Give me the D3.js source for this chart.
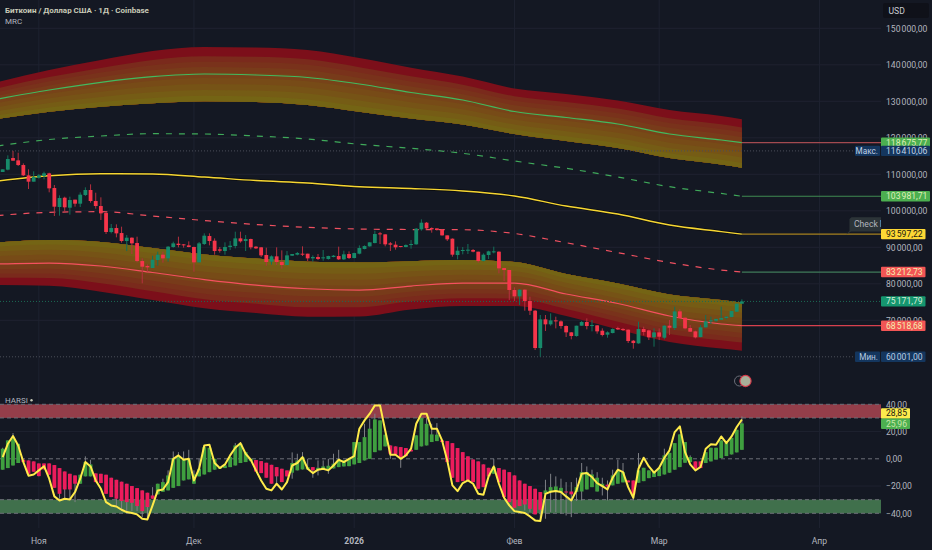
<!DOCTYPE html>
<html>
<head>
<meta charset="utf-8">
<script src="https://cdn.jsdelivr.net/npm/d3@7"></script>
<style>
    html, body { margin: 0; padding: 0; background: #141823; overflow: hidden; }
    svg { display: block; }
    text { font-family: Roboto, sans-serif; }
</style>
</head>
<body>
<svg id="chart" width="932" height="550"></svg>
<script>
// daily candles, BTC/USD, 25 Oct 2025 - 17 Mar 2026
const candleOpen = [
    110630,111270,114460,113820,112540,109710,107980,109070,109530,110260,
    106240,101040,103590,100850,103050,101950,104320,105700,102680,101310,
    99390,94190,95280,93910,91720,92630,91170,86240,84870,84320,
    86520,87980,86970,90080,90990,90810,90530,90080,85880,90900,
    93090,91810,89440,88980,90080,90350,92450,91720,92270,90170,
    89990,87890,86060,87520,85970,85150,87700,87980,88250,88250,
    86970,87340,86970,86790,87340,87610,86700,88160,87060,88250,
    89530,90260,91170,93820,93550,91080,90720,90350,90080,90620,
    90810,94920,96740,95280,95190,94830,93270,92360,87890,88980,
    89070,89260,88800,86240,87890,88620,88800,84320,83780,78300,
    76560,78390,75280,72630,62400,70260,68890,69980,69710,68430,
    66700,65690,68520,69530,68430,68610,67150,66060,66510,67880,
    67610,67430,64410,63680,67610,67240,65330,66700,65230,68520,
    67880,72450,70710,67880,66970,65420,68070,69710,69890,70170,
    70620,70900,72360,74550];
const candleHigh = [
    111360,115190,116410,115920,113000,111360,110810,110080,110720,110440,
    107060,104230,103870,103870,103050,105060,106430,107250,104960,103690,
    99760,96380,96290,95650,93360,92730,92910,86970,85330,87700,
    88800,88800,90350,91540,92910,90900,91630,90170,91450,93820,
    93820,92450,90080,91360,91720,94280,94280,93360,92360,90350,
    90080,89890,87790,89990,89160,88980,88160,88710,90260,88250,
    87790,88160,89260,87700,87890,90170,89070,88890,88520,90530,
    90530,91360,94550,94190,93550,91450,91630,90350,90810,91990,
    95280,97660,96930,95470,95190,94920,93270,92450,90170,90080,
    90900,89530,88800,88340,89070,90170,88890,84320,83780,79030,
    78570,78480,76470,72820,71450,71450,71900,70990,69980,68610,
    66790,68520,69800,70530,70080,68700,67790,66970,67790,68250,
    67880,67520,64600,69620,68250,67430,67790,67790,68700,70080,
    73730,73000,70800,68700,67150,68700,71450,70990,70530,73730,
    71170,72630,74550,75740];
const candleLow = [
    110630,111080,113730,112270,109530,105970,107980,108800,108620,105060,
    98570,98660,99670,98940,101130,101040,104050,102220,100580,97480,
    93640,93820,92730,91260,88980,88160,85880,80120,83320,84320,
    84960,85790,86060,89890,89990,89890,89990,83320,85790,90630,
    90530,87980,88530,87980,89260,89710,91260,88980,89440,89530,
    87340,84960,85240,85150,84140,85050,87610,87790,87610,86240,
    86060,86520,86330,86610,87250,86520,86520,86790,86970,88070,
    89440,90170,91080,90900,90260,88980,89350,89990,89990,89620,
    90720,94550,94920,94000,94550,93180,91720,87430,86700,88070,
    88160,88620,85780,86150,86790,88340,82860,80760,75560,75280,
    74190,72630,71450,61860,60001,67060,68520,67790,67700,65420,
    64780,65510,68520,67520,66970,66330,65600,65230,66420,67340,
    67060,63770,62220,63590,65870,64600,62770,64600,64780,65970,
    67340,70530,67520,66790,65050,65330,67970,68980,69530,70070,
    70260,70800,72270,74550];
const candleClose = [
    111360,114190,113730,112540,109710,107980,109260,109710,110260,106150,
    101130,103500,100950,102950,101950,104420,105700,102680,101310,99300,
    94190,95280,93820,91720,92630,91080,86240,84690,84510,86610,
    87980,86970,90170,91080,90630,90530,90080,85880,91080,93180,
    91720,88980,89070,90080,90440,92450,91630,92270,89990,89710,
    87790,85970,87520,85970,85150,87790,88160,88430,88070,86970,
    87340,86790,87250,87610,87700,86700,88070,87060,88430,89800,
    90350,91360,93640,93550,90810,90720,89990,90080,90620,90900,
    95100,96740,95190,94920,94730,93270,92180,87980,89070,89260,
    89350,88800,86240,87980,88890,88890,84230,83780,78300,76560,
    78390,75280,72630,62400,70260,68890,69980,69710,68430,66700,
    65690,68520,69530,68430,68700,66970,65970,66700,67610,67520,
    67430,64320,63770,67610,66790,65330,66700,65510,68520,67970,
    72450,70620,67790,66880,65330,68070,69710,69980,70350,70620,
    70990,72540,74550,75170];

// MRC channel
const mrcDates = ["2025-10-24","2025-11-03","2025-11-13","2025-11-23","2025-12-03","2025-12-13","2025-12-23","2026-01-02",
    "2026-01-12","2026-01-22","2026-02-01","2026-02-11","2026-02-21","2026-03-03","2026-03-13","2026-03-17"];
const upperOuter = [135290,138570,141310,143780,144880,144740,144050,141860,139200,136790,133510,132000,130220,127610,125970,125070];
const upperMean = [130630,133090,135200,136740,137480,137200,136520,134740,132410,130350,127200,125560,123780,121040,119390,118675.77];
const upperInner = [125150,127150,128520,129450,130000,129810,128980,127150,125290,123640,121040,119120,117200,114460,112680,111800];
const upperHalf = [117750,119530,120490,121120,121040,120490,119670,118220,117120,115750,113640,111640,109260,106600,104750,103981.71];
const meanLine = [108160,109610,110160,110080,109260,108300,107610,106600,106110,105420,104050,101310,99120,96100,94300,93597.22];
const lowerHalf = [98710,99580,99750,98570,97340,96240,95470,95010,94870,94820,93780,91250,88540,85830,83770,83212.73];
const lowerInner = [91310,91990,91450,89800,88020,86920,86050,85830,86190,86510,85970,82680,80080,77060,75550,74810];
const lowerMean = [85420,85690,84870,83090,81170,79660,78650,78290,79390,80210,80210,77200,74600,71170,68980,68518.68];
const lowerOuter = [79660,79470,77830,75550,73280,71990,70980,71030,72950,73910,73910,71170,67470,64050,62260,61660];

// HARSI pane
const harsiOpen = [
    -8,-6.8,-4.9,-3.1,-0.7,-1.2,-1.9,-3.4,-3.4,-3.4,
    -4.6,-6.8,-9.3,-11,-12.2,-18.3,-12.9,-12.9,-10.7,-11,
    -11.7,-13.9,-15.4,-16.8,-18.3,-20,-21.5,-23.2,-24.9,-26.9,
    -26.1,-24.2,-23.2,-21.3,-20,-15.9,-15.1,-18.3,-12.9,-11.5,
    -9.8,-8,-7.3,-6.8,-6.1,-4.9,-3.1,-2.4,-1.7,-0.9,
    -1.7,-2.9,-4.4,-6.1,-7.3,-8.5,-10.2,-8.5,-7.8,-7.8,
    -6.1,-8,-8,-8,-7.1,-6.1,-5.6,-5.4,-4.1,-3.1,
    -1.2,0,4.9,6.2,9.1,9.8,9.1,8.6,7.9,6.6,
    6.6,9.1,9.8,12.3,13,13.5,13,11.5,7.9,4.9,
    1.8,-0.5,-1.9,-4.1,-6.6,-11,-6.8,-8,-9.8,-12.2,
    -15.9,-18.3,-20,-22,-24.4,-25.7,-24.4,-24.4,-24.4,-24,
    -24,-24.4,-24,-22.5,-20.8,-24,-20.3,-19,-19.5,-18.3,
    -17.3,-15.9,-15.9,-17.6,-16.4,-14.2,-13.4,-12.7,-11.5,-10.2,
    -8,-6.1,-2.9,-2.4,-1.9,-1.9,-3.1,-1.9,-0.5,0.5,
    2,3.2,4.7,6.6];
const harsiClose = [
    7.4,13.5,15.2,11,-2.4,-11,-9.5,-12.7,-7.8,-11.7,
    -21.3,-25.7,-22.5,-22.5,-18.3,-11.7,-2.4,-4.1,-17.1,-17.8,
    -25.7,-28.1,-29.3,-31,-31.8,-32.3,-34.7,-38.4,-35.4,-29.3,
    -18.3,-17.1,-12.2,0.5,2,-0.7,-0.5,-11.5,-7.3,8.6,
    8.1,0,-6.1,-4.9,1.3,9.8,11,4.9,0,-9.3,
    -10.5,-13.9,-18.3,-12.9,-17.1,-12.9,-3.1,-1.2,1.3,-6.1,
    -8.5,-6.6,-5.6,-5.1,-3.6,-0.7,-1.2,0,12.3,12.3,
    15.9,22.1,28.9,28.2,17.7,3.7,3.2,1.3,2,5.4,
    17.2,29.9,25.7,17.9,17.7,12.3,-2.4,-13.9,-17.1,-16.4,
    -15.9,-17.1,-22,-20.8,-12.9,-6.1,-17.1,-28.1,-31.8,-35.9,
    -34.7,-33.5,-36.7,-40.8,-37.4,-23.2,-20.8,-20.3,-21.3,-24.4,
    -26.1,-20.8,-9.8,-9.8,-11.5,-13.9,-18.3,-20.3,-12.2,-8.5,
    -9.8,-17.3,-26.1,-8.5,-6.6,-8.5,-9.3,-6.8,2.5,4.4,
    11.5,17.9,12.3,1.3,-7.3,-6.8,4.9,8.1,8.1,13.5,
    11.5,15.4,21.3,25.96];
const harsiHigh = [
    8.1,13.5,18.9,11,-0.7,-1.2,-1.9,-3.4,-3.4,-3.4,
    -4.6,-6.8,-9.3,-11,-12.2,-11.7,1.8,-0.7,-10.7,-11,
    -11.7,-13.9,-15.4,-16.8,-18.3,-20,-21.5,-23.2,-24.9,-20.8,
    -18.3,-14.6,-8.5,5.4,4.9,5.4,6.6,-8.5,0,9.1,
    8.1,0,-6.1,-4.9,1.3,11.5,12.3,4.9,0,-0.9,
    -1.7,-2.9,-4.4,-6.1,-7.3,-8.5,4.7,3.7,4.9,0,
    -6.1,-1.2,-1.2,0,3.7,6.6,-1.2,0,12.3,12.3,
    25.7,29.4,33.1,28.2,17.7,9.8,9.1,8.6,7.9,6.6,
    17.2,29.9,29.9,25.7,26.2,13.5,13,11.5,7.9,4.9,
    1.8,-0.5,-1.9,-4.1,-6.6,0,-6.8,-8,-9.8,-12.2,
    -15.9,-18.3,-20,-22,-24.4,-15.4,-11,-12.9,-14.6,-17.1,
    -17.1,-13.9,-3.1,-5.6,-8,-9.8,-13.9,-15.9,-8,-0.7,
    -3.1,-15.9,-15.9,4.2,-6.6,-8.5,-9.3,-6.8,7.4,4.4,
    11.5,17.9,12.3,2.5,-1.9,-1.9,4.9,8.1,8.1,13.5,
    11.5,15.4,21.3,31.1];
const harsiLow = [
    -8,-6.8,-4.9,-3.1,-2.4,-11,-9.5,-12.9,-7.8,-11.7,
    -21.3,-29.3,-29.3,-29.3,-31.8,-18.3,-12.9,-12.9,-17.1,-17.8,
    -25.7,-28.1,-34.2,-36.7,-38.4,-38.4,-38.4,-42.8,-42.8,-29.3,
    -26.1,-24.2,-23.2,-21.3,-20,-15.9,-15.1,-18.3,-12.9,-11.5,
    -9.8,-8,-7.3,-6.8,-6.1,-4.9,-3.1,-2.4,-1.7,-9.3,
    -10.5,-13.9,-18.3,-19.5,-17.1,-12.9,-14.6,-8.5,-7.8,-7.8,
    -13.9,-12.2,-8,-11,-7.1,-6.1,-5.6,-5.4,-4.1,-3.1,
    -1.2,0,4.9,6.2,9.1,0,3.2,-6.6,2,5.4,
    6.6,9.1,9.8,12.3,13,12.3,-2.4,-13.9,-17.1,-16.4,
    -15.9,-17.1,-22,-20.8,-12.9,-11,-17.1,-28.1,-31.8,-35.9,
    -34.7,-37.9,-39.1,-40.8,-45.7,-44,-39.1,-39.1,-40.3,-41.6,
    -42.8,-31,-30.6,-22.5,-20.8,-24,-26.9,-30.6,-19.5,-18.3,
    -17.3,-17.3,-30.6,-17.6,-16.4,-14.2,-13.4,-12.7,-11.5,-10.2,
    -8,-6.1,-2.9,-2.4,-7.3,-6.8,-3.1,-1.9,-0.5,0.5,
    2,3.2,4.7,6.6];
const rsiLine = [
    1.3,11,16.7,9.8,-2.4,-12.4,-11.5,-8.5,-5.4,-14.6,
    -27.6,-30.6,-29.3,-29.8,-24.4,-14.6,-2.4,-5.6,-15.9,-22,
    -31.8,-34.2,-35,-37.4,-39.1,-39.8,-40.8,-44,-44.5,-34.2,
    -23.2,-22.5,-17.1,0,2.5,-0.7,0,-15.9,-7.3,9.8,
    10.3,-3.1,-6.8,-4.1,2.5,8.1,11.5,3.7,-0.7,-8.5,
    -15.9,-22,-23.2,-18.3,-22.5,-17.1,-4.9,-3.1,1.3,-7.3,
    -10.5,-8,-7.3,-8.5,-4.9,-0.7,-2.4,0,2,22.1,
    28.2,33.1,39.2,39.2,20.8,3,3,0,2.5,7.4,
    25.7,33.1,33.1,22.1,22.1,13.5,-1.2,-19.5,-23.7,-17.8,
    -15.9,-18.3,-25.7,-26.4,-12.9,-5.6,-18.3,-28.6,-34.2,-38.4,
    -39.1,-39.8,-42.3,-45.2,-45.7,-25.7,-24.2,-23.7,-24.4,-27.6,
    -30.6,-23.2,-11,-10.5,-13.4,-17.8,-20,-22.5,-13.9,-8,
    -9.8,-20.8,-28.6,-7.3,0.8,-5.6,-10.2,-6.6,0.8,6.2,
    19.6,23.8,4.9,-4.1,-8.5,-6,7.4,10.6,10.3,16.4,
    11.5,16.4,23.3,28.85];

// axes
const priceTicks = [150000,140000,130000,120000,110000,100000,90000,80000,70000];
const harsiTicks = [40,20,0,-20,-40];
const monthDates = ["2025-11-01","2025-12-01","2026-01-01","2026-02-01","2026-03-01","2026-04-01"];
const monthLabels = ["Ноя","Дек","2026","Фев","Мар","Апр"];

// last-value tags on the price scale
const tagValues = [118675.77,116410.06,103981.71,93597.22,83212.73,75171.79,68518.68,60001];
const tagFills = ["#4caf50","#14365e","#4caf50","#fdd835","#f25555","#15966f","#f25555","#14365e"];
const tagInks = ["#dff0b8","#c3d3e6","#dff0b8","#1a1a10","#f4eeb0","#d5ecd8","#f4eeb0","#b8cbe2"];
const tagLineColors = ["#a34a50",null,"#3f8a52","#a5801f","#3f7a5a",null,"#d8404e",null];
const tagNotes = [null,"Макс.",null,null,null,null,null,"Мин."];

const chartRight = 881;
const axisLeft = 886;
const fontSize = 8.6;
const bg = "#141823";
const gridColor = "#1e2230";

const ruLocale = d3.formatLocale({decimal: ",", thousands: "\u202f", grouping: [3], currency: ["", ""], minus: "\u2212"});
const fmt = ruLocale.format(",.2f");

const parseDay = d3.utcParse("%Y-%m-%d");
const days = d3.utcDay.range(parseDay("2025-10-25"), parseDay("2026-03-18"));

const x = d3.scaleUtc().domain([days[0], days[days.length - 1]]).range([2.67, 741.9]);
const y = d3.scaleLinear().domain([150000, 60000]).range([28.3, 356.8]);
const yh = d3.scaleLinear().domain([40, -40]).range([404.3, 513.3]);

const svg = d3.select("#chart");
svg.append("rect").attr("width", 932).attr("height", 550).attr("fill", bg);
svg.append("clipPath").attr("id", "plot").append("rect").attr("width", chartRight).attr("height", 550);

const plot = svg.append("g").attr("clip-path", "url(#plot)");

// grid
const months = monthDates.map(parseDay);
plot.append("g").selectAll("line").data(months).join("line")
    .attr("x1", d => x(d)).attr("x2", d => x(d))
    .attr("y1", 0).attr("y2", 528)
    .attr("stroke", gridColor);
plot.append("g").selectAll("line").data(priceTicks).join("line")
    .attr("x1", 0).attr("x2", chartRight)
    .attr("y1", d => y(d)).attr("y2", d => y(d))
    .attr("stroke", gridColor);
plot.append("g").selectAll("line").data([20, -20]).join("line")
    .attr("x1", 0).attr("x2", chartRight)
    .attr("y1", d => yh(d)).attr("y2", d => yh(d))
    .attr("stroke", gridColor);

// MRC bands, painted over each other from outer dark red to inner olive
const mrcX = mrcDates.map(parseDay);
const layerStops = [0, .17, .27, .37, .47, .57, .68, .79, .9];
const layerColor = d3.interpolateRgb("#7a2a1c", "#746414");

function drawBand(outer, inner) {
    layerStops.forEach((from, n) => {
        const area = d3.area()
            .x((d, i) => x(mrcX[i]))
            .y0((d, i) => y(outer[i] + (inner[i] - outer[i]) * from))
            .y1((d, i) => y(inner[i]))
            .curve(d3.curveMonotoneX);
        plot.append("path")
            .attr("d", area(outer))
            .attr("fill", n === 0 ? "#7c0f1a" : layerColor((n - 1) / (layerStops.length - 2)));
    });
}
drawBand(upperOuter, upperInner);
drawBand(lowerOuter, lowerInner);

function drawMrcLine(values, color, width, dash) {
    const line = d3.line()
        .x((d, i) => x(mrcX[i]))
        .y(d => y(d))
        .curve(d3.curveMonotoneX);
    plot.append("path")
        .attr("d", line(values))
        .attr("fill", "none")
        .attr("stroke", color)
        .attr("stroke-width", width)
        .attr("stroke-dasharray", dash);
}
drawMrcLine(meanLine, "#0b0d12", 3);
drawMrcLine(upperMean, "#43b95f", 1.2);
drawMrcLine(lowerMean, "#f5505f", 1.2);
drawMrcLine(upperHalf, "#3fa95a", 1.2, "6 7");
drawMrcLine(lowerHalf, "#ef5060", 1.2, "6 7");
drawMrcLine(meanLine, "#f6d632", 1.4);

// high / low / last price dotted lines
const dottedLines = [[116410.06, "#4a4e59"], [60001, "#4a4e59"], [75171.79, "#1c6a55"]];
plot.append("g").selectAll("line").data(dottedLines).join("line")
    .attr("x1", 0).attr("x2", chartRight)
    .attr("y1", d => y(d[0])).attr("y2", d => y(d[0]))
    .attr("stroke", d => d[1])
    .attr("stroke-dasharray", "1 2");

// candles
const up = i => candleClose[i] >= candleOpen[i];
plot.append("g").selectAll("line").data(days).join("line")
    .attr("x1", d => x(d)).attr("x2", d => x(d))
    .attr("y1", (d, i) => y(candleHigh[i]))
    .attr("y2", (d, i) => y(candleLow[i]))
    .attr("stroke", (d, i) => up(i) ? "#13705a" : "#b5303f");
plot.append("g").selectAll("rect").data(days).join("rect")
    .attr("x", d => x(d) - 1.9)
    .attr("width", 3.8)
    .attr("y", (d, i) => y(Math.max(candleOpen[i], candleClose[i])))
    .attr("height", (d, i) => Math.max(1, Math.abs(y(candleOpen[i]) - y(candleClose[i]))))
    .attr("fill", (d, i) => up(i) ? "#178a6a" : "#f5354a");

// level lines from the last bar to the price scale
const lastX = x(days[days.length - 1]);
tagValues.forEach((v, i) => {
    if (tagLineColors[i] === null) return;
    plot.append("line")
        .attr("x1", lastX).attr("x2", chartRight)
        .attr("y1", y(v)).attr("y2", y(v))
        .attr("stroke", tagLineColors[i])
        .attr("stroke-width", 1.2);
});

// HARSI zones
const zones = [[40, 30, "#943e4a"], [-30, -40, "#40704c"]];
plot.append("g").selectAll("rect").data(zones).join("rect")
    .attr("x", 0).attr("width", chartRight)
    .attr("y", d => yh(d[0]))
    .attr("height", d => yh(d[1]) - yh(d[0]))
    .attr("fill", d => d[2]);
plot.append("g").selectAll("line").data([40, 30, 0, -30, -40]).join("line")
    .attr("x1", 0).attr("x2", chartRight)
    .attr("y1", d => yh(d)).attr("y2", d => yh(d))
    .attr("stroke", "#6d6f78")
    .attr("stroke-dasharray", "4 3");

// HARSI candles
const hUp = i => harsiClose[i] >= harsiOpen[i];
plot.append("g").selectAll("line").data(days).join("line")
    .attr("x1", d => x(d)).attr("x2", d => x(d))
    .attr("y1", (d, i) => yh(harsiHigh[i]))
    .attr("y2", (d, i) => yh(harsiLow[i]))
    .attr("stroke", "#7e8086");
plot.append("g").selectAll("rect").data(days).join("rect")
    .attr("x", d => x(d) - 1.9)
    .attr("width", 3.8)
    .attr("y", (d, i) => yh(Math.max(harsiOpen[i], harsiClose[i])))
    .attr("height", (d, i) => Math.max(1, Math.abs(yh(harsiOpen[i]) - yh(harsiClose[i]))))
    .attr("fill", (d, i) => hUp(i) ? "#3f9f3f" : "#ec1c5c");

const rsiPath = d3.line()
    .x((d, i) => x(days[i]))
    .y(d => yh(d));
plot.append("path")
    .attr("d", rsiPath(rsiLine))
    .attr("fill", "none")
    .attr("stroke", "#ffeb4a")
    .attr("stroke-width", 2)
    .attr("stroke-linejoin", "round");

// "Check M..." callout, runs under the price scale
const callout = plot.append("g");
callout.append("path")
    .attr("d", d3.line()([[846, 234.5], [849.5, 231], [849.5, 219], [851.5, 217.3], [890, 217.3], [890, 231.5], [851, 231.5]]))
    .attr("fill", "#2c3438");
callout.append("text")
    .attr("x", 854).attr("y", 227.3)
    .attr("fill", "#b2b5be")
    .attr("font-size", fontSize)
    .text("Check Mark");

// price scale
const priceAxis = d3.axisRight(y)
    .tickValues(priceTicks)
    .tickSize(0)
    .tickPadding(0)
    .tickFormat(fmt);
const priceG = svg.append("g").attr("transform", `translate(${axisLeft},0)`).call(priceAxis);
const harsiAxis = d3.axisRight(yh)
    .tickValues(harsiTicks)
    .tickSize(0)
    .tickPadding(0)
    .tickFormat(fmt);
const harsiG = svg.append("g").attr("transform", `translate(${axisLeft},0)`).call(harsiAxis);
[priceG, harsiG].forEach(g => {
    g.select(".domain").remove();
    g.selectAll("text")
        .attr("font-family", "Roboto, sans-serif")
        .attr("font-size", fontSize)
        .attr("fill", "#b2b5be");
});

// time scale
svg.append("g").selectAll("text").data(months).join("text")
    .attr("x", d => x(d))
    .attr("y", 541.5)
    .attr("dy", "0.32em")
    .attr("text-anchor", "middle")
    .attr("font-size", fontSize)
    .attr("font-weight", (d, i) => monthLabels[i] === "2026" ? 700 : 400)
    .attr("fill", "#b2b5be")
    .text((d, i) => monthLabels[i]);

// tags on the price scale
function drawTag(py, label, fill, ink, width) {
    svg.append("rect")
        .attr("x", chartRight).attr("y", py - 5.2)
        .attr("width", width).attr("height", 10.4)
        .attr("rx", 1)
        .attr("fill", fill);
    svg.append("text")
        .attr("x", axisLeft).attr("y", py)
        .attr("dy", "0.34em")
        .attr("font-size", fontSize)
        .attr("fill", ink)
        .text(label);
}
tagValues.forEach((v, i) => {
    drawTag(y(v), fmt(v), tagFills[i], tagInks[i], v >= 100000 ? 49 : 44.5);
    if (tagNotes[i]) {
        svg.append("rect")
            .attr("x", chartRight - 26).attr("y", y(v) - 5.2)
            .attr("width", 25).attr("height", 10.4)
            .attr("rx", 1)
            .attr("fill", tagFills[i]);
        svg.append("text")
            .attr("x", chartRight - 3).attr("y", y(v))
            .attr("dy", "0.34em")
            .attr("text-anchor", "end")
            .attr("font-size", 8.2)
            .attr("fill", tagInks[i])
            .text(tagNotes[i]);
    }
});
drawTag(yh(rsiLine[rsiLine.length - 1]) - 6, fmt(rsiLine[rsiLine.length - 1]), "#fdeb4c", "#1a1a10", 29);
drawTag(yh(harsiClose[harsiClose.length - 1]) + 0.3, fmt(harsiClose[harsiClose.length - 1]), "#4caf50", "#c8e6a8", 29);

// currency button
svg.append("rect").attr("x", 883).attr("y", 3).attr("width", 46).attr("height", 15)
    .attr("rx", 2).attr("fill", "#0f1119");
svg.append("text").attr("x", 888.5).attr("y", 13.8).attr("font-size", fontSize).attr("fill", "#c9cbd2").text("USD");

// legend
svg.append("text").attr("x", 5).attr("y", 13.3).attr("font-size", 8).attr("font-weight", 700)
    .attr("fill", "#c9cbb8").text("Биткоин / Доллар США · 1Д · Coinbase");
svg.append("text").attr("x", 5).attr("y", 23.5).attr("font-size", 8).attr("fill", "#b2b5be").text("MRC");
svg.append("text").attr("x", 5).attr("y", 403).attr("font-size", 8).attr("fill", "#b2b5be").text("HARSI");
svg.append("circle").attr("cx", 31.5).attr("cy", 400.3).attr("r", 1.2).attr("fill", "#c9cbb8");

// broker logo marker
const logo = svg.append("g");
logo.append("circle").attr("cx", 739.5).attr("cy", 381).attr("r", 5).attr("fill", "none").attr("stroke", "#6b6e78");
logo.append("circle").attr("cx", 745.5).attr("cy", 381).attr("r", 5.6).attr("fill", "#a8b09a").attr("stroke", "#d83a4a").attr("stroke-width", 1.1);
</script>
</body>
</html>
